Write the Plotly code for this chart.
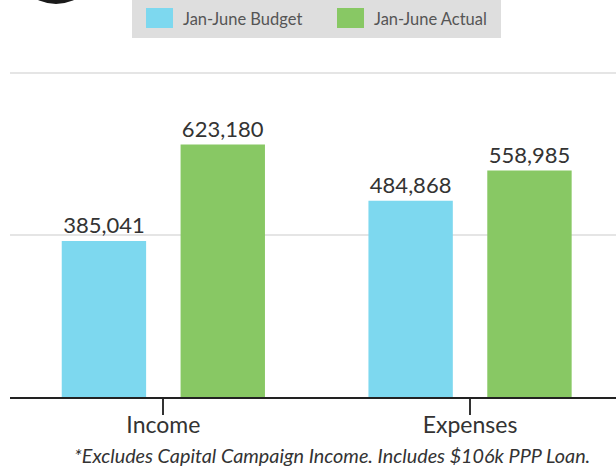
import plotly.graph_objects as go

categories = ["Income", "Expenses"]
budget = [385041, 484868]
actual = [623180, 558985]
series_names = ["Jan-June Budget", "Jan-June Actual"]
colors = ["#7DD8EF", "#88C864"]
footnote = "*Excludes Capital Campaign Income. Includes $106k PPP Loan."

W, H = 616, 470
ML, MR, MT, MB = 10, 0, 60, 73
PW, PH = W - ML - MR, H - MT - MB

def px_x(px):
    return (px - ML) / PW

def px_y(py):
    return (H - MB - py) / PH

fig = go.Figure()
for name, vals, col in zip(series_names, [budget, actual], colors):
    fig.add_trace(go.Bar(
        x=categories, y=vals, name=name, marker=dict(color=col, line=dict(width=0)),
        text=[f"{v:,}" for v in vals], textposition="outside",
        textfont=dict(size=22, color="#333333", family="Lato"),
        cliponaxis=False, showlegend=False, hoverinfo="skip",
    ))

cx, r, bottom = 56, 42, 4
shapes = [
    # partial dark circle (logo) at top-left
    dict(type="circle", xref="paper", yref="paper", xsizemode="pixel", ysizemode="pixel",
         xanchor=0, yanchor=1, x0=cx - r - ML, x1=cx + r - ML, y0=MT - bottom, y1=MT - bottom + 2 * r,
         fillcolor="#1a1a1a", line=dict(width=0), layer="above"),
    # legend background
    dict(type="rect", xref="paper", yref="paper", xsizemode="pixel", ysizemode="pixel",
         xanchor=0, yanchor=1, x0=132 - ML, x1=501 - ML, y0=MT - 38, y1=MT + 2,
         fillcolor="#dedede", line=dict(width=0), layer="above"),
]
annotations = []
leg_x = [146, 337]
for lx, name, col in zip(leg_x, series_names, colors):
    shapes.append(dict(type="rect", xref="paper", yref="paper", xsizemode="pixel", ysizemode="pixel",
                       xanchor=0, yanchor=1, x0=lx - ML, x1=lx + 27 - ML, y0=MT - 28, y1=MT - 8,
                       fillcolor=col, line=dict(width=0), layer="above"))
    annotations.append(dict(text=name, xref="paper", yref="paper", x=px_x(lx + 35), y=px_y(18.5),
                            xanchor="left", yanchor="middle", showarrow=False,
                            font=dict(family="Lato", size=16.5, color="#555555")))
annotations.append(dict(text=f"<i>{footnote}</i>", xref="paper", yref="paper",
                        x=px_x(332), y=px_y(455), xanchor="center", yanchor="middle",
                        showarrow=False, font=dict(family="Lato", size=19.8, color="#333333")))

fig.update_layout(
    width=W, height=H,
    margin=dict(l=ML, r=MR, t=MT, b=MB, pad=0),
    paper_bgcolor="white", plot_bgcolor="white",
    barmode="group", bargap=0.225, bargroupgap=0.29,
    font=dict(family="Lato", color="#333333"),
    shapes=shapes, annotations=annotations,
    xaxis=dict(range=[-0.5, -0.5 + PW / 306.7], showline=True, linecolor="#222222", linewidth=1.5,
               ticks="outside", ticklen=16, tickwidth=1.5, tickcolor="#333333",
               ticklabelstandoff=-9,
               tickfont=dict(size=23, color="#333333", family="Lato"), showgrid=False),
    yaxis=dict(range=[0, PH / 162 * 400000], dtick=400000, tick0=0, showgrid=True,
               gridcolor="#e5e5e5", gridwidth=2, showticklabels=False, zeroline=False,
               showline=False),
)

fig.write_html("out.html", config={"displayModeBar": False},
               post_script="document.body.style.margin='0';document.body.style.overflow='hidden';")
